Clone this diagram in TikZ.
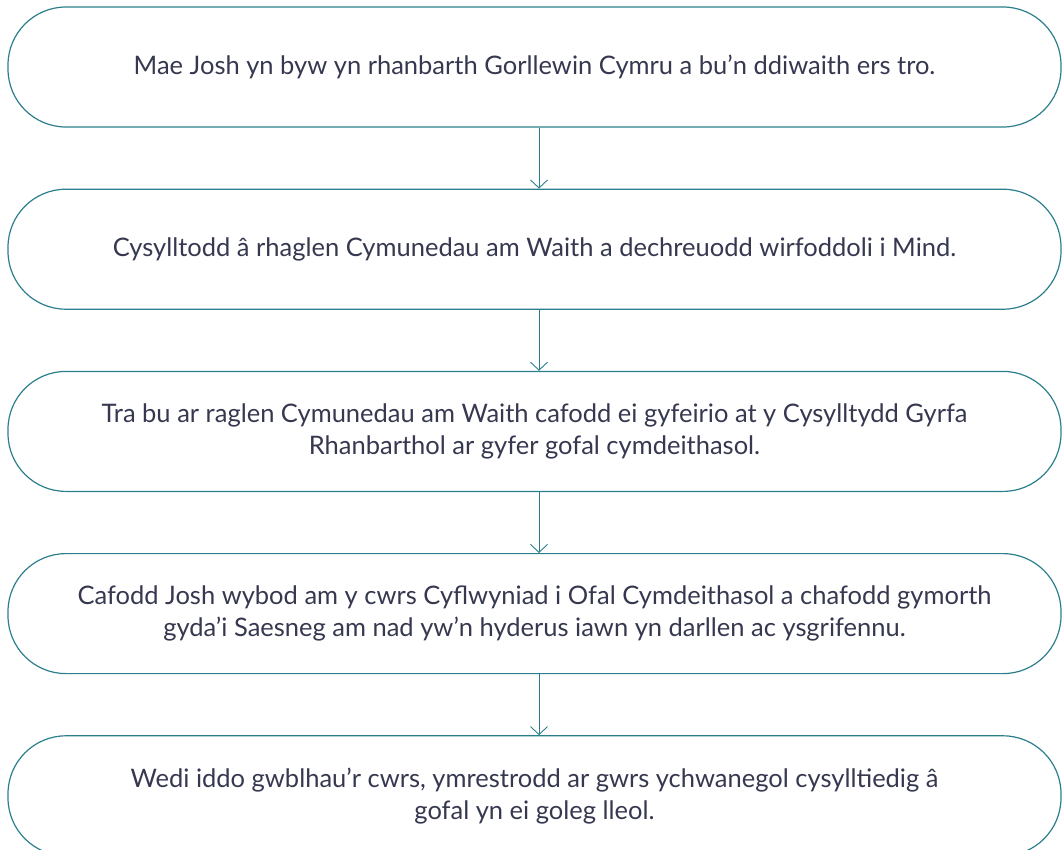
\documentclass[tikz,border=0pt]{standalone}
\usepackage{fontspec}
\setmainfont{Lato}
\usepackage{tikz}
\usetikzlibrary{positioning,arrows.meta}
\definecolor{tealline}{HTML}{2B7F8C}
\definecolor{textnavy}{HTML}{363850}

\begin{document}
\begin{tikzpicture}[
  x=1pt,y=1pt,
  node distance=61pt
]

  \path[use as bounding box] (0,0) rectangle (1062,-849);

  \tikzstyle{stepnode}=[draw=tealline,line width=1.2pt,rectangle,rounded corners=58pt,minimum width=1053pt,minimum height=120pt,inner sep=0pt,align=center,text=textnavy,font=\fontsize{25.5}{32}\selectfont]
  \tikzstyle{pointer}=[draw=tealline,line width=0.9pt,-{Straight Barb[length=8pt,width=17pt]}]

  % steps
  \node[stepnode] (s1) at (534.5,-67) {Mae Josh yn byw yn rhanbarth Gorllewin Cymru a bu’n ddiwaith ers tro.};
  \node[stepnode] (s2) [below=of s1] {Cysylltodd â rhaglen Cymunedau am Waith a dechreuodd wirfoddoli i Mind.};
  \node[stepnode] (s3) [below=of s2] {Tra bu ar raglen Cymunedau am Waith cafodd ei gyfeirio at y Cysylltydd Gyrfa\\Rhanbarthol ar gyfer gofal cymdeithasol.};
  \node[stepnode] (s4) [below=of s3] {Cafodd Josh wybod am y cwrs Cyflwyniad i Ofal Cymdeithasol a chafodd gymorth\\gyda’i Saesneg am nad yw’n hyderus iawn yn darllen ac ysgrifennu.};
  \node[stepnode] (s5) [below=of s4] {Wedi iddo gwblhau’r cwrs, ymrestrodd ar gwrs ychwanegol cysylltiedig â\\gofal yn ei goleg lleol.};

  % arrows
  \draw[pointer] ([xshift=4.5pt]s1.south) -- ([xshift=4.5pt]s2.north);
  \draw[pointer] ([xshift=4.5pt]s2.south) -- ([xshift=4.5pt]s3.north);
  \draw[pointer] ([xshift=4.5pt]s3.south) -- ([xshift=4.5pt]s4.north);
  \draw[pointer] ([xshift=4.5pt]s4.south) -- ([xshift=4.5pt]s5.north);

\end{tikzpicture}
\end{document}
